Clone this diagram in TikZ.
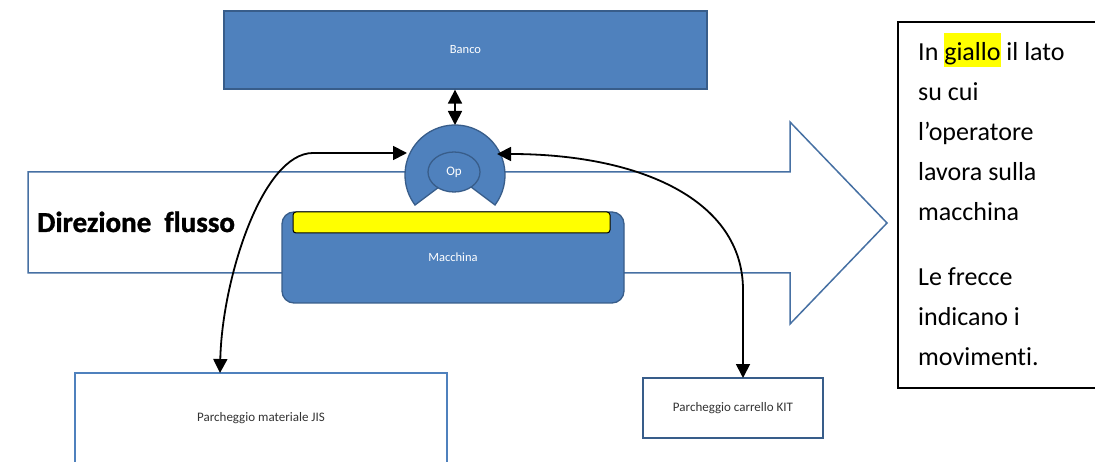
\documentclass[tikz,border=0pt]{standalone}
\usepackage{fontspec}
\setmainfont{Carlito}[Ligatures=NoCommon]
\newfontfamily\flowfont[FakeBold=1.2,Ligatures=NoCommon]{Carlito Bold}
\usetikzlibrary{shapes.geometric,arrows.meta}
\definecolor{boxblue}{HTML}{4F81BD}
\definecolor{edgeblue}{HTML}{385D8A}
\definecolor{flowedge}{HTML}{4670A3}
\definecolor{mark}{HTML}{FFFF00}
\tikzset{
  bluebox/.style={draw=edgeblue, line width=1.3pt, fill=boxblue, text=white, inner sep=0pt},
  parkbox/.style={draw=boxblue, line width=1.3pt, fill=white, text=black!80, inner sep=0pt, font=\fontsize{13}{15}\selectfont},
  move/.style={line width=1.8pt, {Triangle[length=14pt,width=14pt]}-{Triangle[length=14pt,width=14pt]}},
  smalltext/.style={font=\fontsize{12.5}{14}\selectfont}
}
\begin{document}
\begin{tikzpicture}[x=1pt,y=-1pt]
\useasboundingbox (0,0) rectangle (1095,462);

% flow direction arrow (background)
\draw[draw=flowedge, line width=1.5pt, fill=white]
  (28,172) -- (790,172) -- (790,122) -- (887,223) -- (790,324) -- (790,273) -- (28,273) -- cycle;
\node[anchor=base west, inner sep=0pt, font=\fontsize{29}{31}\flowfont] (flow) at (37,232) {Direzione\ \ flusso};

% workbench
\node[bluebox, minimum width=483pt, minimum height=78pt, smalltext] (banco) at (465.5,50) {Banco};

% machine with the yellow working side
\node[bluebox, rounded corners=12pt, minimum width=342pt, minimum height=91pt, smalltext] (macchina) at (453,257.5) {Macchina};
\node[draw=black, line width=1pt, fill=mark, rounded corners=3pt, minimum width=317pt, minimum height=21pt, inner sep=0pt] (lato) at (451.5,222.5) {};

% operator: block arc opening towards the machine
\coordinate (opc) at (455,175);
\fill[boxblue, draw=edgeblue, line width=1.3pt]
  (opc) ++(36.87:50) arc[start angle=36.87, end angle=-216.87, radius=50]
  -- ++(-216.87:-32) arc[start angle=-216.87, end angle=36.87, radius=18] -- cycle;
\node[ellipse, draw=edgeblue, line width=1.3pt, fill=boxblue, text=white, minimum width=52pt, minimum height=40pt, inner sep=0pt, font=\fontsize{13}{15}\selectfont] (op) at (454,172) {Op};
\coordinate (optop) at (455,125);
\coordinate (opleft) at (407,153);
\coordinate (opright) at (497,154);

% parking areas
\node[parkbox, minimum width=372pt, minimum height=90pt] (jis) at (261,418) {Parcheggio materiale JIS};
\node[parkbox, draw=edgeblue, line width=2pt, minimum width=180pt, minimum height=60pt] (kit) at (733,408) {Parcheggio carrello KIT};
\coordinate (jisin) at (220,373);
\coordinate (kitin) at (743,378);

% operator movements
\draw[move] (banco.south -| optop) -- (optop);
\draw[move] (jisin) .. controls (222,280) and (262,153) .. (313,153) -- (opleft);
\draw[move] (opright) .. controls (640,154) and (743,200) .. (743,290) -- (kitin);

% legend
\draw[line width=1.2pt] (898,22) rectangle (1097,388);
\node[anchor=north west, align=left, inner sep=0pt, font=\fontsize{26}{40}\selectfont] (note) at (918,33)
  {In {\setlength\fboxsep{0pt}\colorbox{mark}{\rule[-7pt]{0pt}{34pt}giallo}} il lato\\
   su cui\\
   l’operatore\\
   lavora sulla\\
   macchina\\[25pt]
   Le frecce\\
   indicano i\\
   movimenti.};
\end{tikzpicture}
\end{document}
